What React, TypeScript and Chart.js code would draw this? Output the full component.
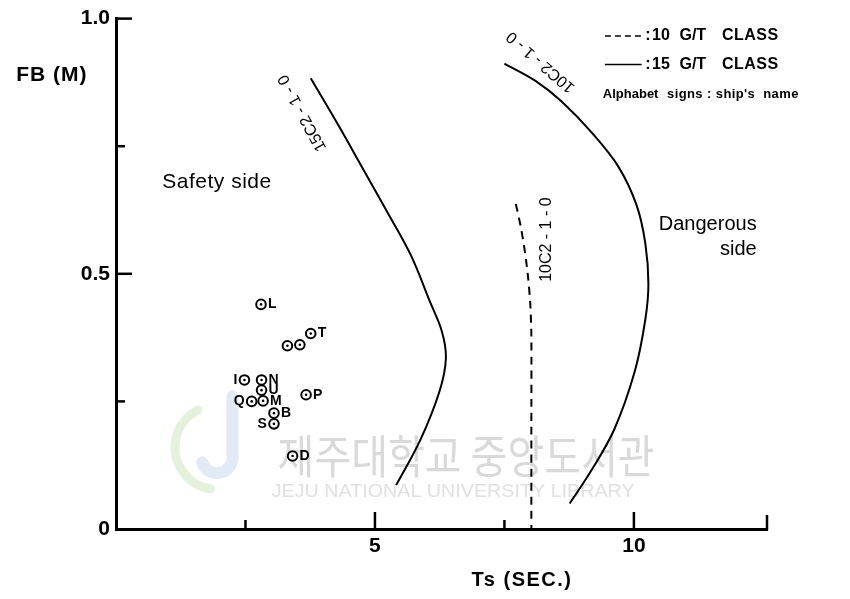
import React, { useEffect, useRef } from 'react';
import { Chart, registerables } from 'chart.js';

Chart.register(...registerables);

// 15C2-1-0 limit line (15 G/T class)
const c15Ts = [3.76, 4.30, 4.80, 5.30, 5.70, 6.06, 6.29, 6.37, 6.25, 5.87, 5.41];
const c15FB = [0.883, 0.79, 0.70, 0.61, 0.535, 0.446, 0.388, 0.335, 0.271, 0.173, 0.086];
// 10C2-1-0 limit line (15 G/T class)
const c10Ts = [7.50, 8.10, 8.60, 9.20, 9.70, 10.05, 10.22, 10.28, 10.22, 10.02, 9.62, 9.15, 8.76];
const c10FB = [0.912, 0.878, 0.838, 0.775, 0.710, 0.635, 0.560, 0.480, 0.410, 0.310, 0.195, 0.110, 0.050];
// 10C2-1-0 limit line (10 G/T class)
const d10Ts = [7.72, 7.82, 7.90, 7.96, 8.00, 8.02, 8.02, 8.02];
const d10FB = [0.637, 0.590, 0.540, 0.490, 0.440, 0.380, 0.200, 0.0];
// ships
const shipNames = ['L', 'T', '', '', 'I', 'N', 'U', 'Q', 'M', 'P', 'B', 'S', 'D'];
const shipSide = ['r', 'r', '', '', 'l', 'r', 'r', 'l', 'r', 'r', 'r', 'l', 'r'];
const shipTs = [2.80, 3.76, 3.31, 3.55, 2.48, 2.81, 2.81, 2.62, 2.84, 3.67, 3.05, 3.05, 3.41];
const shipFB = [0.440, 0.383, 0.359, 0.361, 0.292, 0.292, 0.272, 0.250, 0.251, 0.263, 0.227, 0.206, 0.143];

// axis ticks
const xMajor = [5, 10];
const xMinor = [2.5, 7.5];
const yMajor = [0.5, 1.0];
const yMinor = [0.25, 0.75];
const X_MAX = 12.57;

const FONT = '"Liberation Sans", Arial, sans-serif';

const mk = (ts: number[], fb: number[]) => ts.map((t, i) => ({ x: t, y: fb[i] }));

const annot = {
  id: 'annot',
  beforeDatasetsDraw(chart: any) {
    const { ctx, scales: { x, y } } = chart;
    const X = (v: number) => x.getPixelForValue(v);
    const Y = (v: number) => y.getPixelForValue(v);
    ctx.save();
    // watermark logo (faint)
    ctx.lineCap = 'round';
    ctx.strokeStyle = 'rgba(150,200,120,0.25)';
    ctx.lineWidth = 9;
    ctx.beginPath();
    ctx.arc(X(1.95), Y(0.16), 42, Math.PI * 0.55, Math.PI * 1.35);
    ctx.stroke();
    ctx.strokeStyle = 'rgba(120,160,210,0.22)';
    ctx.lineWidth = 12;
    ctx.beginPath();
    ctx.moveTo(X(2.25), Y(0.26));
    ctx.lineTo(X(2.25), Y(0.14));
    ctx.arc(X(1.95), Y(0.14), X(2.25) - X(1.95), 0, Math.PI * 0.9);
    ctx.stroke();
    ctx.fillStyle = '#d9d9d9';
    ctx.textAlign = 'center';
    ctx.textBaseline = 'middle';
    ctx.font = `46px "Noto Sans CJK KR"`;
    const kr = '제주대학교 중앙도서관';
    const w = ctx.measureText(kr).width;
    ctx.save();
    ctx.translate(X(6.76), Y(0.144));
    ctx.scale(377 / w, 1);
    ctx.fillText(kr, 0, 0);
    ctx.restore();
    ctx.fillStyle = '#e0e0e0';
    ctx.font = `19px ${FONT}`;
    const en = 'JEJU NATIONAL UNIVERSITY LIBRARY';
    const w2 = ctx.measureText(en).width;
    ctx.save();
    ctx.translate(X(6.51), Y(0.072));
    ctx.scale(363 / w2, 1);
    ctx.fillText(en, 0, 0);
    ctx.restore();
    ctx.restore();
  },
  afterDraw(chart: any) {
    const { ctx, scales: { x, y } } = chart;
    const X = (v: number) => x.getPixelForValue(v);
    const Y = (v: number) => y.getPixelForValue(v);
    ctx.save();
    ctx.strokeStyle = '#000';
    ctx.fillStyle = '#000';
    ctx.lineWidth = 2.5;
    ctx.lineCap = 'butt';
    const x0 = X(0), y0 = Y(0);
    const line = (a: number, b: number, c: number, d: number) => {
      ctx.beginPath(); ctx.moveTo(a, b); ctx.lineTo(c, d); ctx.stroke();
    };
    yMajor.forEach(v => line(x0, Y(v), x0 + 16, Y(v)));
    yMinor.forEach(v => line(x0, Y(v), x0 + 9, Y(v)));
    xMajor.forEach(v => line(X(v), y0, X(v), y0 - 17));
    xMinor.forEach(v => line(X(v), y0, X(v), y0 - 9));
    line(X(X_MAX), y0 + 1, X(X_MAX), y0 - 14);

    // ship labels
    ctx.textBaseline = 'middle';
    ctx.font = `bold 14px ${FONT}`;
    shipNames.forEach((n, i) => {
      if (!n) return;
      const px = X(shipTs[i]), py = Y(shipFB[i]);
      if (shipSide[i] === 'r') { ctx.textAlign = 'left'; ctx.fillText(n, px + 7, py); }
      else { ctx.textAlign = 'right'; ctx.fillText(n, px - 7, py); }
    });

    const text = (t: string, vx: number, vy: number, font: string, align: CanvasTextAlign = 'center', ls = '0px') => {
      ctx.font = font; ctx.textAlign = align; ctx.textBaseline = 'middle';
      (ctx as any).letterSpacing = ls;
      ctx.fillText(t, X(vx), Y(vy));
      (ctx as any).letterSpacing = '0px';
    };
    const rot = (t: string, vx: number, vy: number, ang: number, font: string) => {
      ctx.save();
      ctx.translate(X(vx), Y(vy));
      ctx.rotate(ang * Math.PI / 180);
      ctx.font = font; ctx.textAlign = 'center'; ctx.textBaseline = 'middle';
      ctx.fillText(t, 0, 0);
      ctx.restore();
    };
    text('FB (M)', -1.24, 0.889, `bold 21px ${FONT}`, 'center', '1px');
    text('Ts (SEC.)', 7.84, -0.101, `bold 20px ${FONT}`, 'center', '1.5px');
    text('Safety side', 1.95, 0.680, `21px ${FONT}`, 'center', '0.5px');
    text('Dangerous', 12.37, 0.597, `20px ${FONT}`, 'right');
    text('side', 12.37, 0.548, `20px ${FONT}`, 'right');

    rot('15C2 - 1 - 0', 3.60, 0.815, -118.5, `16px ${FONT}`);
    rot('10C2 - 1 - 0', 8.20, 0.915, -139, `16px ${FONT}`);
    rot('10C2 - 1 - 0', 8.32, 0.567, -90, `16px ${FONT}`);

    // legend
    const ly1 = 0.966, ly2 = 0.910, ly3 = 0.852;
    ctx.lineWidth = 1.5;
    ctx.setLineDash([6, 4]);
    line(X(9.44), Y(ly1), X(10.15), Y(ly1));
    ctx.setLineDash([]);
    line(X(9.44), Y(ly2), X(10.15), Y(ly2));
    const lf = `bold 16px ${FONT}`;
    text(':', 10.22, ly1, lf, 'left');
    text('10', 10.35, ly1, lf, 'left');
    text('G/T', 10.88, ly1, lf, 'left');
    text('CLASS', 11.70, ly1, lf, 'left', '0.5px');
    text(':', 10.22, ly2, lf, 'left');
    text('15', 10.35, ly2, lf, 'left');
    text('G/T', 10.88, ly2, lf, 'left');
    text('CLASS', 11.70, ly2, lf, 'left', '0.5px');
    text('Alphabet', 9.40, ly3, `bold 13px ${FONT}`, 'left');
    text('signs : ship\'s  name', 10.64, ly3, `bold 13px ${FONT}`, 'left', '0.4px');
    ctx.restore();
  },
};

export default function App() {
  const ref = useRef<HTMLCanvasElement>(null);
  useEffect(() => {
    document.body.style.margin = '0';
    const canvas = ref.current!;
    const tickFont = { family: FONT, size: 21, weight: 'bold' as const };
    const chart = new Chart(canvas, {
      type: 'scatter',
      data: {
        datasets: [
          { data: mk(shipTs, shipFB), pointRadius: 1.3, pointBorderWidth: 0, pointBackgroundColor: '#000', pointBorderColor: '#000' },
          { data: mk(shipTs, shipFB), pointRadius: 4.8, pointBorderWidth: 2, pointBackgroundColor: '#fff', pointBorderColor: '#000' },
          { data: mk(c15Ts, c15FB), showLine: true, borderColor: '#000', borderWidth: 2, pointRadius: 0, tension: 0.35 },
          { data: mk(c10Ts, c10FB), showLine: true, borderColor: '#000', borderWidth: 2, pointRadius: 0, tension: 0.35 },
          { data: mk(d10Ts, d10FB), showLine: true, borderColor: '#000', borderWidth: 2, borderDash: [8, 6], pointRadius: 0, tension: 0.25 },
        ],
      } as any,
      options: {
        animation: false,
        responsive: false,
        devicePixelRatio: 1,
        layout: { padding: { top: 16, right: 83, left: 0, bottom: 0 } },
        plugins: { legend: { display: false }, tooltip: { enabled: false } },
        scales: {
          x: {
            type: 'linear', min: 0, max: X_MAX,
            afterFit: (s: any) => { s.height = 70; },
            grid: { display: false, drawTicks: false },
            border: { display: true, color: '#000', width: 3 },
            ticks: {
              stepSize: 2.5, padding: 5, color: '#000', font: tickFont, maxRotation: 0,
              callback: (v: any) => (v === 5 ? '5' : v === 10 ? '10' : ''),
            },
          },
          y: {
            type: 'linear', min: 0, max: 1,
            afterFit: (s: any) => { s.width = 116; },
            grid: { display: false, drawTicks: false },
            border: { display: true, color: '#000', width: 3 },
            ticks: {
              stepSize: 0.25, padding: 6, color: '#000', font: tickFont,
              callback: (v: any) => (v === 0 ? '0' : v === 0.5 ? '0.5' : v === 1 ? '1.0' : ''),
            },
          },
        },
      } as any,
      plugins: [annot],
    });
    return () => chart.destroy();
  }, []);
  return (
    <div style={{ position: 'absolute', left: 0, top: 0, width: 850, height: 599 }}>
      <canvas ref={ref} width={850} height={599} style={{ display: 'block', width: 850, height: 599 }} />
    </div>
  );
}
